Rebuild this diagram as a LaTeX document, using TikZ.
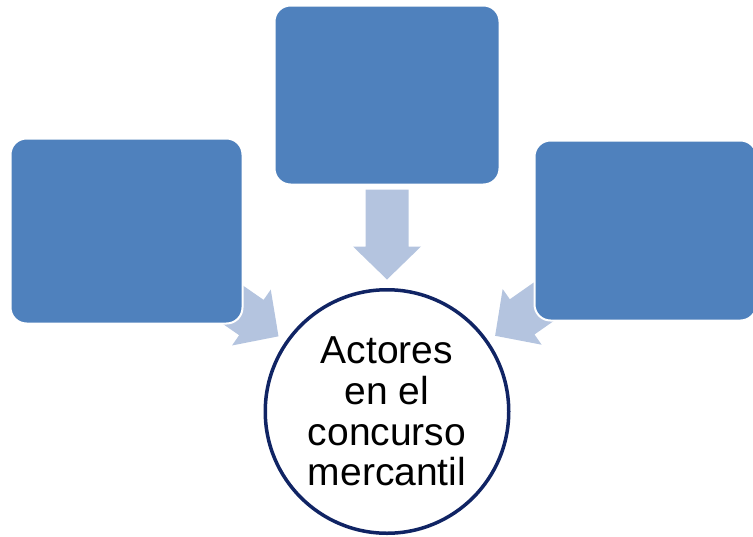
\documentclass[tikz,border=0pt]{standalone}
\usepackage{fontspec}
\setmainfont{Liberation Sans}
\usetikzlibrary{calc}

\definecolor{boxblue}{HTML}{4F81BD}
\definecolor{arrowblue}{RGB}{180,196,223}
\definecolor{ringnavy}{RGB}{16,36,100}

\tikzset{
    actorbox/.style={rectangle, rounded corners=16pt, fill=boxblue, draw=white, line width=2pt},
    hub/.style={circle, draw=ringnavy, line width=3.5pt, fill=white, minimum size=243.5pt,
        inner sep=0pt, align=center, font=\fontsize{39}{40.7}\selectfont},
    blockfill/.style={fill=arrowblue}
}

% block arrow from tail to head
\newcommand{\blockarrow}[2]{%
    \coordinate (ba-h) at ($(#2)!33pt!(#1)$);
    \fill[blockfill] ($(#1)!21.5pt!90:(#2)$) -- ($(ba-h)!21.5pt!90:(#2)$)
        -- ($(ba-h)!34pt!90:(#2)$) -- (#2) -- ($(ba-h)!34pt!-90:(#2)$)
        -- ($(ba-h)!21.5pt!-90:(#2)$) -- ($(#1)!21.5pt!-90:(#2)$) -- cycle;
}

\begin{document}
\begin{tikzpicture}[x=1pt, y=-1pt]
    % Page frame
    \useasboundingbox (0,0) rectangle (753,536);
    \clip (0,0) rectangle (753,536);

    % Hub and box anchors (hidden first, arrows go behind the boxes)
    \path (387,411.5) coordinate (hubc);
    \path (126.5,231) coordinate (leftc);
    \path (387,95) coordinate (topc);
    \path (645.5,230.5) coordinate (rightc);

    % Arrow ends along the line to the hub
    \coordinate (lefttail) at ($(hubc)!222pt!(leftc)$);
    \coordinate (lefthead) at ($(hubc)!132pt!(leftc)$);
    \coordinate (toptail) at ($(hubc)!222pt!(topc)$);
    \coordinate (tophead) at ($(hubc)!132pt!(topc)$);
    \coordinate (righttail) at ($(hubc)!222pt!(rightc)$);
    \coordinate (righthead) at ($(hubc)!132pt!(rightc)$);

    \blockarrow{lefttail}{lefthead}
    \blockarrow{toptail}{tophead}
    \blockarrow{righttail}{righthead}

    % Boxes
    \node[actorbox, minimum width=232pt, minimum height=185pt] (leftbox) at (leftc) {};
    \node[actorbox, minimum width=225pt, minimum height=179pt] (topbox) at (topc) {};
    \node[actorbox, minimum width=222pt, minimum height=180pt] (rightbox) at (rightc) {};

    % Hub
    \node[hub] (actors) at (hubc) {Actores\\en el\\concurso\\mercantil};
\end{tikzpicture}
\end{document}
